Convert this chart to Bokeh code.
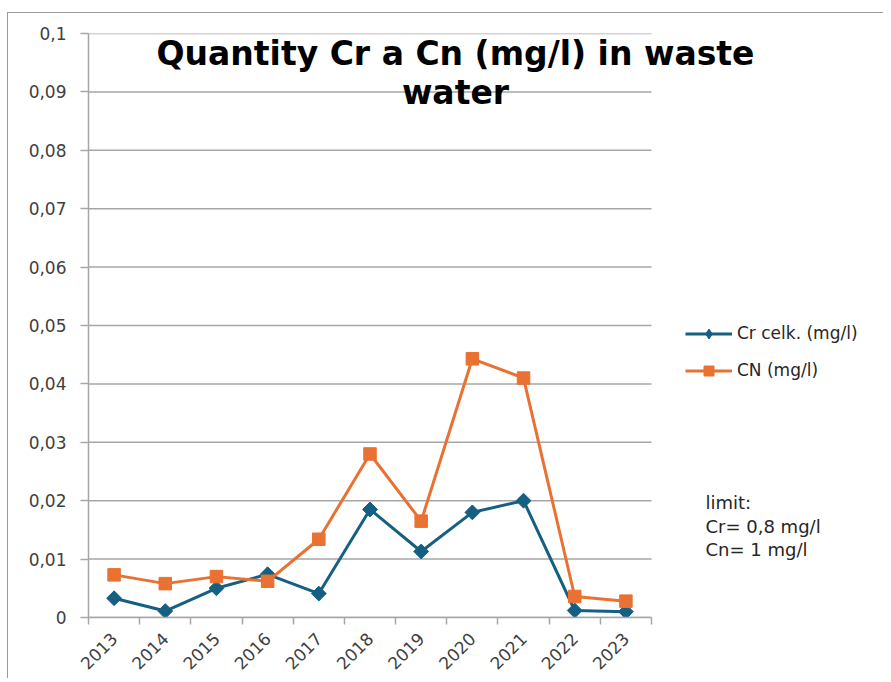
import math
from bokeh.plotting import figure
from bokeh.models import Range1d, FixedTicker, Legend, LegendItem, Label
from bokeh.embed import file_html
from bokeh.resources import INLINE

# ---- data ----
years = ["2013", "2014", "2015", "2016", "2017", "2018", "2019", "2020", "2021", "2022", "2023"]
cr_celk = [0.0033, 0.0011, 0.0050, 0.0074, 0.0041, 0.0185, 0.0113, 0.0180, 0.0200, 0.0012, 0.0010]
cn_vals = [0.0073, 0.0058, 0.0070, 0.0062, 0.0134, 0.0280, 0.0165, 0.0443, 0.0410, 0.0036, 0.0028]
y_ticks = [0.0, 0.01, 0.02, 0.03, 0.04, 0.05, 0.06, 0.07, 0.08, 0.09, 0.1]
y_tick_labels = ["0", "0,01", "0,02", "0,03", "0,04", "0,05", "0,06", "0,07", "0,08", "0,09", "0,1"]
series_names = ["Cr celk. (mg/l)", "CN (mg/l)"]
title_lines = ["Quantity Cr a Cn (mg/l) in waste", "water"]
note_lines = ["limit:", "Cr= 0,8 mg/l", "Cn= 1 mg/l"]

BLUE = "#156082"
ORANGE = "#E97132"
GRID = "#a6a6a6"
TXT = "#404040"

n = len(years)
xs = [i + 0.5 for i in range(n)]  # category centres

PLOT_W = 563      # width of the category area in px
FRAME_W = 795     # frame extends right to hold legend and note
x_end = n * FRAME_W / PLOT_W

p = figure(
    frame_width=FRAME_W, frame_height=584,
    min_border_left=80, min_border_top=20, min_border_right=0, min_border_bottom=57,
    x_range=Range1d(0, x_end), y_range=Range1d(0, 0.1),
    output_backend="svg", toolbar_location=None,
    outline_line_color=None, background_fill_color="white", border_fill_color="white",
)
p.styles = {"margin-left": "7px", "margin-top": "12px",
            "border-left": "1px solid #9a9a9a", "border-top": "1px solid #9a9a9a"}

# x axis: labels at category centres, ticks at boundaries
p.xaxis.bounds = (0, n)
p.xaxis.ticker = FixedTicker(ticks=xs, minor_ticks=list(range(n + 1)))
p.xaxis.major_label_overrides = {x: y for x, y in zip(xs, years)}
p.xaxis.major_tick_in = 0
p.xaxis.major_tick_out = 0
p.xaxis.minor_tick_in = 0
p.xaxis.minor_tick_out = 7
p.xaxis.minor_tick_line_color = GRID
p.xaxis.minor_tick_line_width = 1.5
p.xaxis.axis_line_color = GRID
p.xaxis.axis_line_width = 1.5
p.xaxis.major_label_orientation = math.pi / 4
p.xaxis.major_label_standoff = 11
p.xaxis.major_label_text_font = "DejaVu Sans"
p.xaxis.major_label_text_font_size = "17px"
p.xaxis.major_label_text_color = TXT

# y axis
p.yaxis.ticker = FixedTicker(ticks=y_ticks, minor_ticks=[])
p.yaxis.major_label_overrides = {t: l for t, l in zip(y_ticks, y_tick_labels)}
p.yaxis.major_tick_in = 0
p.yaxis.major_tick_out = 8
p.yaxis.major_tick_line_color = GRID
p.yaxis.major_tick_line_width = 1.5
p.yaxis.axis_line_color = GRID
p.yaxis.axis_line_width = 1.5
p.yaxis.major_label_standoff = 14
p.yaxis.major_label_text_font = "DejaVu Sans"
p.yaxis.major_label_text_font_size = "17px"
p.yaxis.major_label_text_color = TXT

# horizontal gridlines across the category area only
p.grid.visible = False
p.segment(x0=[0] * len(y_ticks), x1=[n] * len(y_ticks), y0=y_ticks, y1=y_ticks,
          line_color=GRID, line_width=1.5)

# series
l1 = p.line(xs, cr_celk, line_color=BLUE, line_width=3)
# diamond glyph (hidden under the rotated squares) used as the legend marker
k1 = p.scatter(xs, cr_celk, marker="diamond", size=13, fill_color=BLUE, line_color=BLUE)
m1 = p.scatter(xs, cr_celk, marker="square", angle=math.pi / 4, size=10.5,
               fill_color=BLUE, line_color=BLUE)
l2 = p.line(xs, cn_vals, line_color=ORANGE, line_width=3)
m2 = p.scatter(xs, cn_vals, marker="square", size=12.5, fill_color=ORANGE, line_color=ORANGE)

legend = Legend(
    items=[LegendItem(label=series_names[0], renderers=[l1, k1]),
           LegendItem(label=series_names[1], renderers=[l2, m2])],
    location=(597, 234.5), orientation="vertical",
    glyph_width=47, glyph_height=25, label_height=25, label_standoff=5,
    spacing=12, padding=0, margin=0,
    border_line_color=None, background_fill_alpha=0,
    label_text_font="DejaVu Sans", label_text_font_size="17px", label_text_color="#262626",
)
p.add_layout(legend, "center")

# title (two lines, centred over the chart)
for txt, yy in zip(title_lines, [0.09657, 0.08989]):
    p.add_layout(Label(x=7.17, y=yy, text=txt, text_align="center", text_baseline="alphabetic",
                       text_font="DejaVu Sans", text_font_style="bold", text_font_size="33px",
                       text_color="black"))

# limits note
for txt, yy in zip(note_lines, [0.019692, 0.015582, 0.011644]):
    p.add_layout(Label(x=12.055, y=yy, text=txt, text_align="left", text_baseline="alphabetic",
                       text_font="DejaVu Sans", text_font_size="18px", text_color="#262626"))

open("out.html", "w").write(file_html(p, INLINE))
